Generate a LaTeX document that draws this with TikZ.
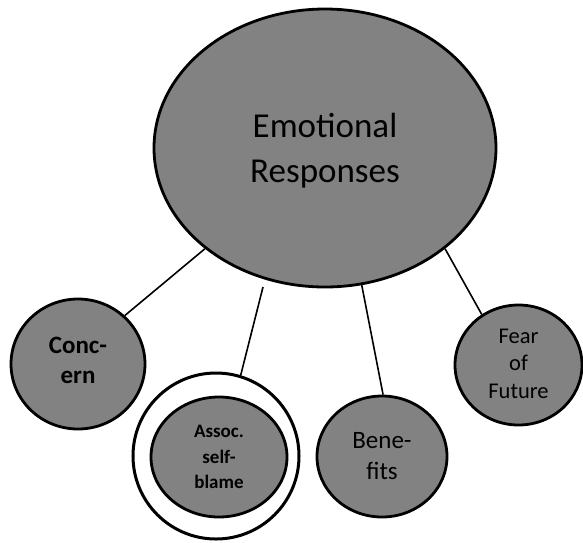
\documentclass[tikz,border=0pt]{standalone}
\usepackage{fontspec}
\setmainfont{Carlito}
\usetikzlibrary{shapes.geometric}
\definecolor{dither}{RGB}{130,130,130}
\tikzset{
  bubble/.style={ellipse, draw=black, line width=2.8pt, fill=dither, inner sep=0pt, align=center, text=black},
  conn/.style={draw=black, line width=1.6pt},
}
\begin{document}
\begin{tikzpicture}[x=1pt,y=-1pt]
\useasboundingbox (0,0) rectangle (583,542);
% ring
\node[circle, draw=black, line width=3pt, fill=white, minimum size=166pt, inner sep=0pt] (ring) at (216,456) {};
% nodes
\node[bubble, minimum width=342pt, minimum height=278pt, text depth=0pt, font=\fontsize{35}{45}\selectfont] (er) at (325,148) {Emotional\\Responses};
\node[bubble, minimum width=134pt, minimum height=130pt, text depth=8pt, font=\bfseries\fontsize{25}{30}\selectfont] (con) at (78,364) {Conc-\\ern};
\node[bubble, minimum width=136pt, minimum height=120pt, font=\bfseries\fontsize{19}{25.5}\selectfont] (ass) at (219,457) {Assoc.\\self-\\blame};
\node[bubble, minimum width=130pt, minimum height=121pt, font=\fontsize{25}{31}\selectfont] (ben) at (382,456.5) {Bene-\\fits};
\node[bubble, minimum width=127pt, minimum height=120pt, text depth=3pt, font=\fontsize{22.5}{27.5}\selectfont] (fear) at (518.5,365) {Fear\\of\\Future};
% connectors
\coordinate (gap) at (263,287);
\draw[conn] (er.220) -- (con.46);
\draw[conn] (gap) -- (ring.73);
\draw[conn] (er.-75) -- (ben.89);
\draw[conn] (er.-40) -- (fear.126);
\end{tikzpicture}
\end{document}
